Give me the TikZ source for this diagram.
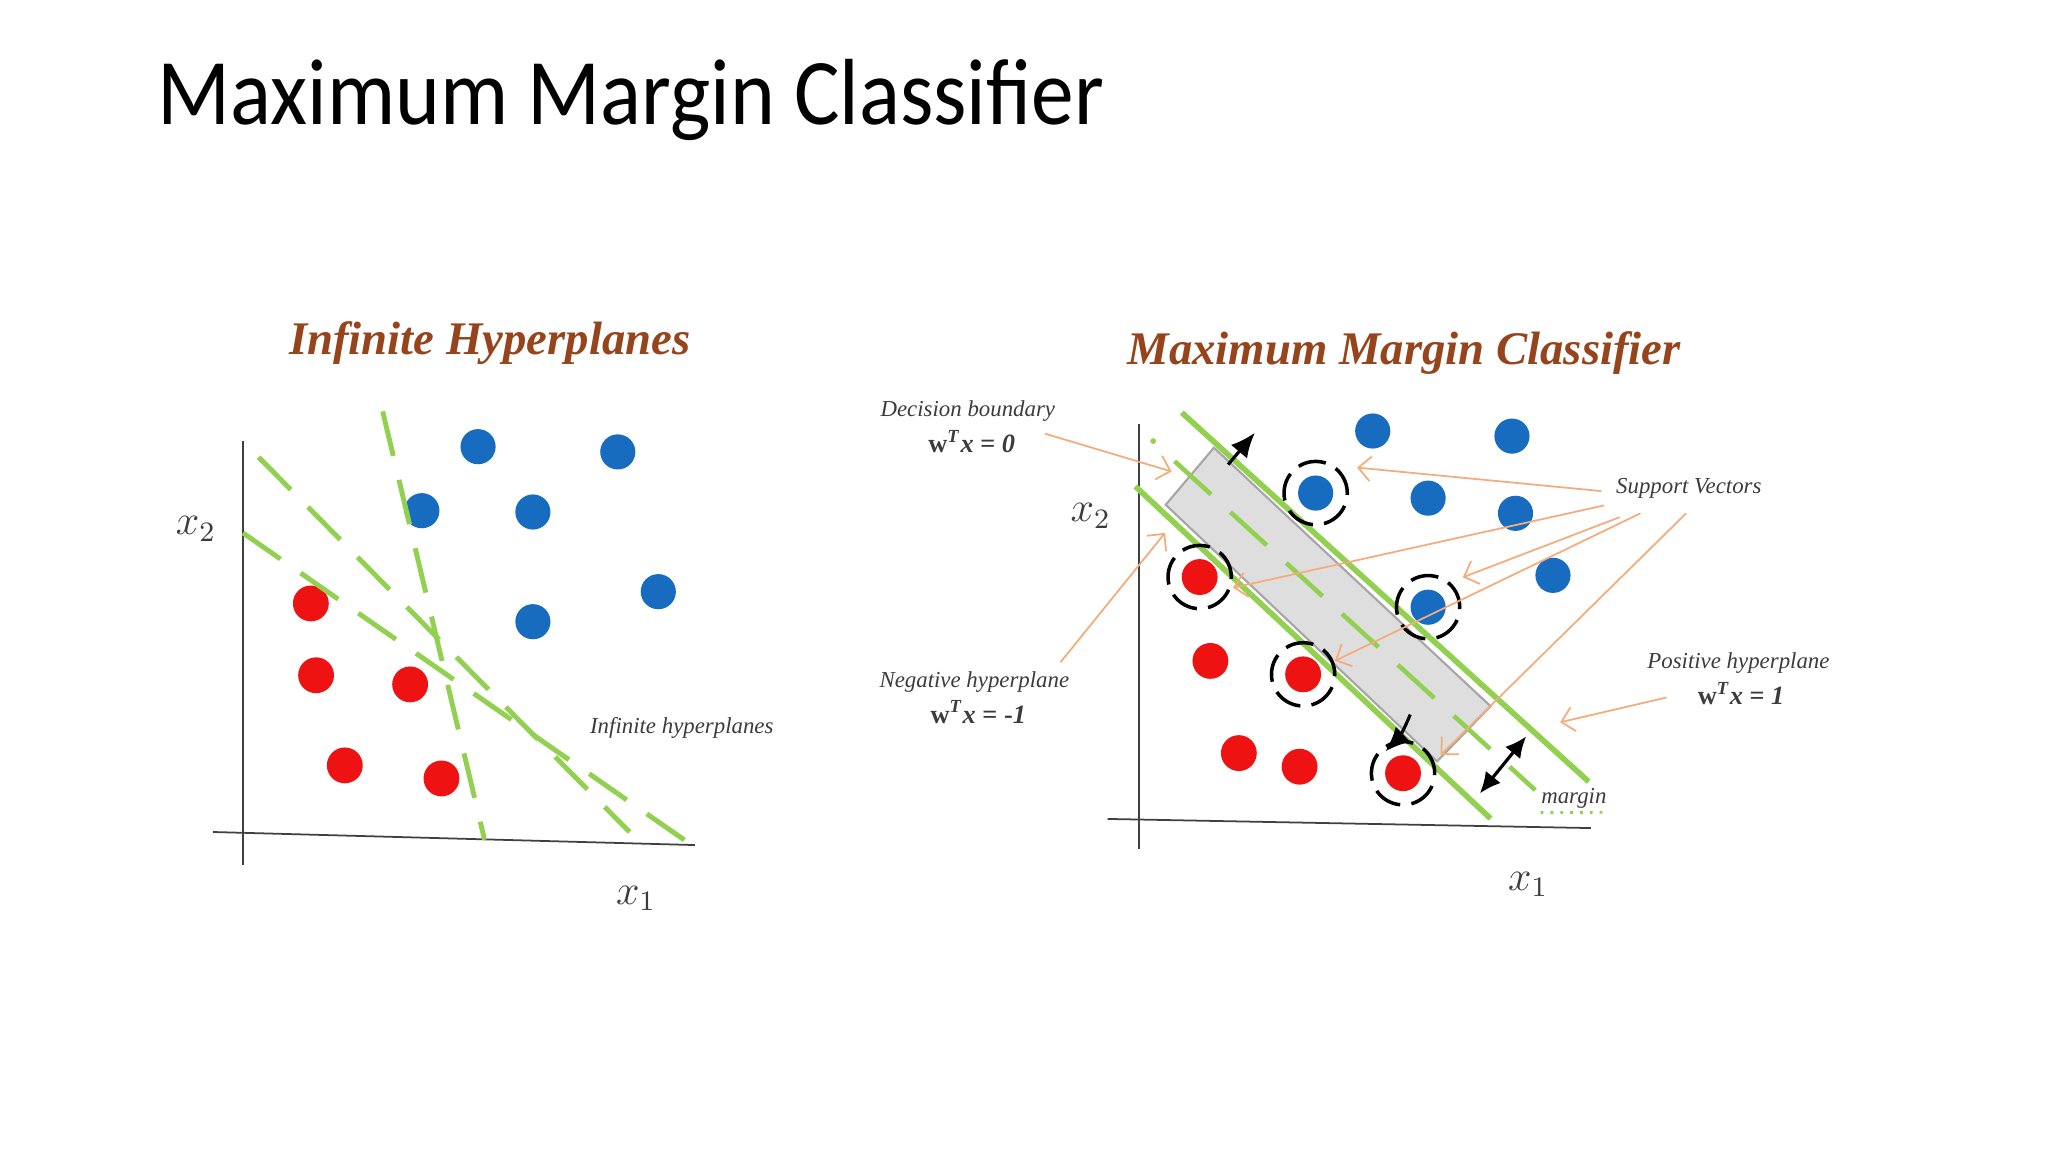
\documentclass[tikz,border=0pt]{standalone}
\usepackage{fontspec}
\setmainfont{Liberation Serif}
\newfontfamily\calib{Carlito}
\usetikzlibrary{arrows.meta}
\definecolor{brn}{RGB}{150,68,28}
\definecolor{grn}{RGB}{146,208,80}
\definecolor{cblue}{RGB}{24,108,192}
\definecolor{cred}{RGB}{238,18,18}
\definecolor{corange}{RGB}{244,172,124}
\definecolor{ctext}{RGB}{60,60,60}
\definecolor{cband}{RGB}{222,222,222}
\begin{document}
\begin{tikzpicture}[x=0.0130612cm,y=-0.0130612cm,
  bluedot/.style={circle,fill=cblue,inner sep=0pt,minimum size=10pt},
  reddot/.style={circle,fill=cred,inner sep=0pt,minimum size=10.2pt},
  svring/.style={circle,draw=black,line width=1pt,dash pattern=on 8pt off 3.2pt,minimum size=18pt,inner sep=0pt},
  hyper/.style={grn,line width=1.4pt,dash pattern=on 13pt off 7pt},
  plane/.style={grn,line width=1.6pt},
  axisline/.style={draw=black!75,line width=0.5pt},
  ptr/.style={corange,line width=0.5pt,-{Straight Barb[length=3.5pt,width=7pt]}},
  blk/.style={black,line width=0.9pt},
  lbl/.style={font=\fontsize{6.5}{7.5}\selectfont\itshape,text=ctext,inner sep=0pt},
  eqn/.style={font=\fontsize{7.5}{8.5}\selectfont\bfseries,text=ctext,inner sep=0pt},
  ttl/.style={font=\fontsize{13.3}{15}\selectfont\bfseries\itshape,text=brn,inner sep=0pt},
  axl/.style={font=\fontsize{12}{13}\selectfont,text=ctext,inner sep=0pt}]
\useasboundingbox (0,0) rectangle (1568,882);
\fill[white] (0,0) rectangle (1568,882);

% main title
\node[anchor=base west,inner sep=0pt,font=\calib\fontsize{24.3}{28}\selectfont] (main) at (120,95) {\scalebox{1}[1.1]{Maximum Margin Classifier}};

% ================= left panel =================
\node[ttl] (ltitle) at (375,263) {Infinite Hyperplanes};
\coordinate (lyt) at (186,338); \coordinate (lyb) at (186,662);
\coordinate (lxl) at (163,637); \coordinate (lxr) at (532,647);
\draw[axisline] (lyt) -- (lyb);
\draw[axisline] (lxl) -- (lxr);
\node[axl] (lx2) at (150,405) {$x_2$};
\node[axl] (lx1) at (487,688) {$x_1$};

\node[bluedot] (lb1) at (366,342) {};
\node[bluedot] (lb2) at (473,346) {};
\node[bluedot] (lb3) at (323,391) {};
\node[bluedot] (lb4) at (408,392) {};
\node[bluedot] (lb5) at (504,453) {};
\node[bluedot] (lb6) at (408,476) {};
\node[reddot] (lr1) at (238,462) {};
\node[reddot] (lr2) at (242,517) {};
\node[reddot] (lr3) at (314,524) {};
\node[reddot] (lr4) at (264,586) {};
\node[reddot] (lr5) at (338,596) {};

\coordinate (h1a) at (293,315); \coordinate (h1b) at (371,643);
\coordinate (h2a) at (198,350); \coordinate (h2b) at (482,637);
\coordinate (h3a) at (186,408); \coordinate (h3b) at (531,648);
\draw[hyper] (h1a) -- (h1b);
\draw[hyper] (h2a) -- (h2b);
\draw[hyper] (h3a) -- (h3b);
\node[lbl] (linf) at (522,557) {Infinite hyperplanes};

% ================= right panel =================
\node[ttl] (rtitle) at (1075,270) {Maximum Margin Classifier};
\coordinate (ryt) at (872,325); \coordinate (ryb) at (872,650);
\coordinate (rxl) at (848,627); \coordinate (rxr) at (1218,634);
\draw[axisline] (ryt) -- (ryb);
\draw[axisline] (rxl) -- (rxr);
\node[axl] (rx2) at (835,395) {$x_2$};
\node[axl] (rx1) at (1170,677) {$x_1$};

% margin band
\coordinate (bA) at (892.5,386.5); \coordinate (bB) at (929.4,342.8);
\coordinate (bC) at (1141.2,540.7); \coordinate (bD) at (1100.2,583);
\draw[fill=cband,draw=black!35,line width=0.6pt] (bA) -- (bB) -- (bC) -- (bD) -- cycle;

% hyperplanes
\coordinate (pa) at (904.8,315.9); \coordinate (pb) at (1216.4,598.5);
\coordinate (na) at (869.3,372.4); \coordinate (nb) at (1141.2,626.7);
\coordinate (ma) at (882.9,337.7); \coordinate (ms) at (899.3,353.1); \coordinate (mb) at (1175.4,604.9);
\draw[plane] (pa) -- (pb);
\draw[plane] (na) -- (nb);
\fill[grn] (ma) circle (2.2);
\draw[hyper,line width=1.3pt,dash pattern=on 14pt off 7.5pt] (ms) -- (mb);

% points
\node[bluedot] (rb1) at (1051,330) {};
\node[bluedot] (rb2) at (1157.6,333.9) {};
\node[bluedot] (rb3) at (1007.3,377.5) {};
\node[bluedot] (rb4) at (1093.4,381.4) {};
\node[bluedot] (rb5) at (1160.3,393) {};
\node[bluedot] (rb6) at (1189,440.5) {};
\node[bluedot] (rb7) at (1093.4,464.9) {};
\node[reddot] (rr1) at (918.5,441.8) {};
\node[reddot] (rr2) at (926.7,506) {};
\node[reddot] (rr3) at (997.7,516.3) {};
\node[reddot] (rr4) at (948.5,576.6) {};
\node[reddot] (rr5) at (995,587) {};
\node[reddot] (rr6) at (1074.2,592) {};
\node[svring] (s1) at (rb3) {};
\node[svring] (s2) at (rb7) {};
\node[svring] (s3) at (rr1) {};
\node[svring] (s4) at (rr3) {};
\node[svring] (s5) at (rr6) {};

% black arrows
\coordinate (ua0) at (940.3,355.7); \coordinate (ua1) at (960.8,331.3);
\coordinate (da0) at (1079.7,547.1); \coordinate (da1) at (1060.6,575.3);
\coordinate (mg0) at (1133,607.5); \coordinate (mg1) at (1168.5,563.8);
\draw[blk,-{Latex[length=7pt,width=6pt]}] (ua0) -- (ua1);
\draw[blk,-{Latex[length=7pt,width=6pt]}] (da0) to[bend left=12] (da1);
\draw[blk,{Latex[length=6pt,width=5.5pt]}-{Latex[length=6pt,width=5.5pt]}] (mg0) -- (mg1);

% labels
\node[lbl] (ldb) at (741,315) {Decision boundary};
\node[eqn] (edb) at (744,338) {w\textsuperscript{\itshape T}\textit{x} = \textit{0}};
\node[lbl] (lnh) at (746,522) {Negative hyperplane};
\node[eqn] (enh) at (749,545) {w\textsuperscript{\itshape T}\textit{x} = -\textit{1}};
\node[lbl] (lph) at (1331,508) {Positive hyperplane};
\node[eqn] (eph) at (1333,531) {w\textsuperscript{\itshape T}\textit{x} = \textit{1}};
\node[lbl] (lsv) at (1293,374) {Support Vectors};
\node[lbl] (lmg) at (1205,611) {margin};
\draw[grn,line width=0.8pt,dotted] (lmg.south west) ++(0,3) -- ([yshift=-1pt]lmg.south east);

% orange pointers
\coordinate (pd0) at (800,332); \coordinate (pd1) at (897,361);
\coordinate (pn0) at (812,507); \coordinate (pn1) at (892,408);
\coordinate (sa0) at (1226,376); \coordinate (sa1) at (1039,358);
\coordinate (sb0) at (1228,387); \coordinate (sb1) at (944,450);
\coordinate (sc0) at (1240,396); \coordinate (sc1) at (1120,442);
\coordinate (sd0) at (1256,393); \coordinate (sd1) at (1022,506);
\coordinate (se0) at (1291,393); \coordinate (se1) at (1103,578);
\coordinate (pp0) at (1276,534); \coordinate (pp1) at (1194.5,553);
\draw[ptr] (pd0) -- (pd1);
\draw[ptr] (pn0) -- (pn1);
\draw[ptr] (sa0) -- (sa1);
\draw[ptr] (sb0) -- (sb1);
\draw[ptr] (sc0) -- (sc1);
\draw[ptr] (sd0) -- (sd1);
\draw[ptr] (se0) -- (se1);
\draw[ptr] (pp0) -- (pp1);
\end{tikzpicture}
\end{document}
